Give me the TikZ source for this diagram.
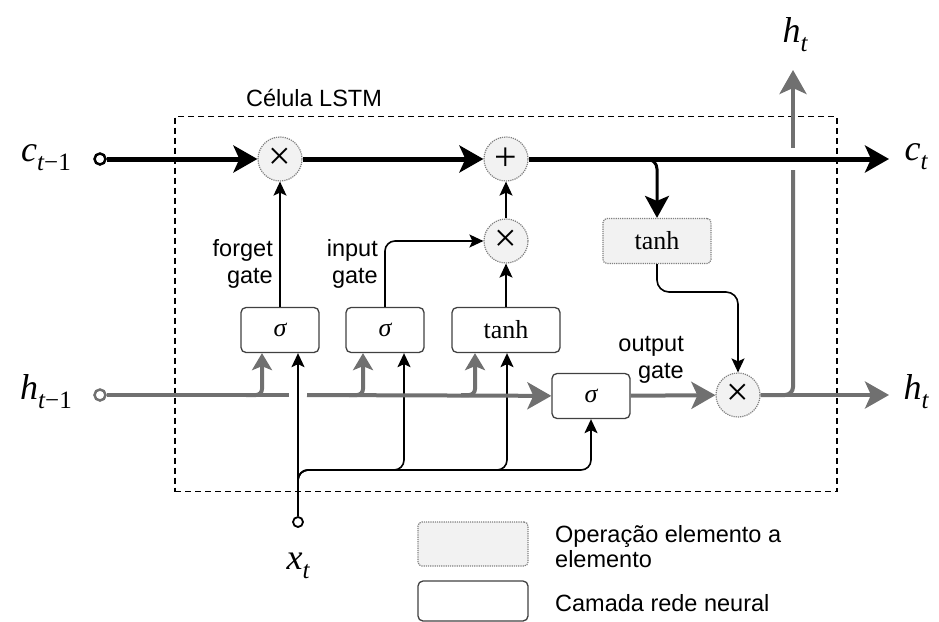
\documentclass[tikz,border=0pt]{standalone}
\usepackage{fontspec}
\newfontfamily\labelfont{Liberation Sans}
\newfontfamily\symfont{Liberation Serif}
\usetikzlibrary{arrows.meta}
\definecolor{hgray}{RGB}{112,112,112}
\definecolor{opfill}{RGB}{242,242,242}
\newcommand{\vlab}[2]{{\itshape #1}\raisebox{-0.25em}{\fontsize{25}{25}\selectfont #2}}

\begin{document}
\begin{tikzpicture}[x=1pt,y=-1pt,
    opcirc/.style={draw=gray, densely dotted, line width=1.2pt, fill=opfill, circle, minimum size=44pt, inner sep=0pt, font=\symfont\fontsize{40}{40}\selectfont},
    oprect/.style={draw=gray, densely dotted, line width=1.2pt, fill=opfill, rounded corners=4pt, minimum width=108pt, minimum height=45pt, inner sep=0pt, font=\symfont\fontsize{26}{26}\selectfont},
    nnbox/.style={draw=black!75, line width=1.3pt, rounded corners=5pt, minimum width=78pt, minimum height=45pt, inner sep=0pt, font=\symfont\fontsize{26}{26}\selectfont},
    portdot/.style={draw, circle, line width=2.5pt, minimum size=11pt, inner sep=0pt, fill=white},
    mlabel/.style={font=\symfont\fontsize{36}{36}\selectfont},
    tlabel/.style={font=\labelfont\fontsize{23.5}{27}\selectfont, align=right, inner sep=0pt},
    carrow/.style={line width=5pt, -{Stealth[length=24pt,width=27pt,inset=6pt]}},
    hline/.style={hgray, line width=4pt},
    harrow/.style={hline, -{Stealth[length=24pt,width=27pt,inset=6pt]}},
    hbranch/.style={hline, rounded corners=6pt, -{Stealth[length=17pt,width=20pt,inset=4pt]}},
    xline/.style={line width=1.6pt, rounded corners=10pt},
    xarrow/.style={xline, -{Stealth[length=14pt,width=13pt,inset=3pt]}},
  ]
      \useasboundingbox (0,0) rectangle (939,621);
      \node (cell) at (506,304) [draw, line width=1.3pt, dash pattern=on 6pt off 4pt, minimum width=662pt, minimum height=375pt] {};
      \node (celltxt) at (314,98) [tlabel] {Célula LSTM};

      \node (cin) at (100,159) [portdot] {};
      \node (hin) at (100,395) [portdot, draw=hgray] {};
      \node (xin) at (298,522) [portdot, line width=1.8pt, minimum size=10pt] {};

      \node (fmul) at (280,159) [opcirc] {×};
      \node (cadd) at (506,159) [opcirc] {+};
      \node (imul) at (506,241) [opcirc] {×};
      \node (omul) at (738,395) [opcirc] {×};
      \node (ctanh) at (657,241) [oprect] {tanh};

      \node (fsig) at (280,330) [nnbox] {\itshape σ};
      \node (isig) at (385,330) [nnbox] {\itshape σ};
      \node (itanh) at (506,330) [nnbox, minimum width=108pt] {tanh};
      \node (osig) at (591,396) [nnbox] {\itshape σ};

      \node (lcin) at (46,158) [mlabel] {\vlab{c}{\itshape t\upshape −1}};
      \node (lhin) at (46,392) [mlabel] {\vlab{h}{\itshape t\upshape −1}};
      \node (lxin) at (298,566) [mlabel] {\vlab{x}{\itshape t}};
      \node (lct) at (916,157) [mlabel] {\vlab{c}{\itshape t}};
      \node (lht) at (916,392) [mlabel] {\vlab{h}{\itshape t}};
      \node (lhtop) at (795,35) [mlabel] {\vlab{h}{\itshape t}};

      \node (fgate) at (273,264) [tlabel, anchor=east] {forget\\gate};
      \node (igate) at (378,264) [tlabel, anchor=east] {input\\gate};
      \node (ogate) at (684,360) [tlabel, anchor=east] {output\\gate};

      \coordinate (cout) at (889,159);
      \coordinate (hout) at (889,395);
      \coordinate (htop) at (793,70);
      \coordinate (hcross1) at (793,170);
      \coordinate (hcross2) at (793,148);
      \coordinate (hgap1) at (289,395);
      \coordinate (hgap2) at (307,395);
      \coordinate (cbr) at (636,159);
      \coordinate (tbend) at (700,292);
      \coordinate (xbus0) at (298,500);
      \coordinate (xbus) at (298,470);
      \coordinate (fbr) at (246,395);
      \coordinate (ibr) at (349,395);
      \coordinate (tbr) at (461,395);

      % cell state
      \draw[carrow] (cin) -- (fmul);
      \draw[carrow] (fmul) -- (cadd);
      \draw[carrow] (cadd) -- (cout);
      \draw[line width=3pt, rounded corners=10pt, -{Stealth[length=22pt,width=24pt,inset=5pt]}] (cbr) -| (ctanh.north);

      \draw[xarrow] (fsig) -- (fmul);
      \draw[xarrow] (isig) |- (imul);
      \draw[xarrow] (itanh) -- (imul);
      \draw[xarrow] (imul) -- (cadd);
      \draw[xarrow, rounded corners=12pt] (ctanh) |- (tbend) -| (omul);

      % input x_t
      \draw[xarrow] (xin) -- ([xshift=18pt]fsig.south);
      \draw[xarrow] (xbus0) -- (xbus) -| ([xshift=19pt]isig.south);
      \draw[xarrow] (xbus0) -- (xbus) -| ([xshift=1pt]itanh.south);
      \draw[xarrow] (xbus0) -- (xbus) -| (osig);

      % hidden state
      \draw[hline] (hin) -- (hgap1);
      \draw[harrow] (hgap2) -- (osig);
      \draw[hbranch] (fbr) -| ([xshift=-18pt]fsig.south);
      \draw[hbranch] (ibr) -| ([xshift=-22pt]isig.south);
      \draw[hbranch] (tbr) -| ([xshift=-31pt]itanh.south);
      \draw[harrow] (osig) -- (omul);
      \draw[harrow] (omul) -- (hout);
      \draw[hline, rounded corners=8pt] (omul) -| (hcross1);
      \draw[harrow] (hcross2) -- (htop);

      \node (lgop) at (473,544) [oprect, minimum width=110pt, minimum height=44pt] {};
      \node (lgnn) at (473,601) [nnbox, minimum width=110pt, minimum height=40pt] {};
      \node (lgoptxt) at (555,547) [tlabel, anchor=west, align=left, font=\labelfont\fontsize{23.5}{25}\selectfont] {Operação elemento a\\elemento};
      \node (lgnntxt) at (555,603) [tlabel, anchor=west] {Camada rede neural};
\end{tikzpicture}
\end{document}
